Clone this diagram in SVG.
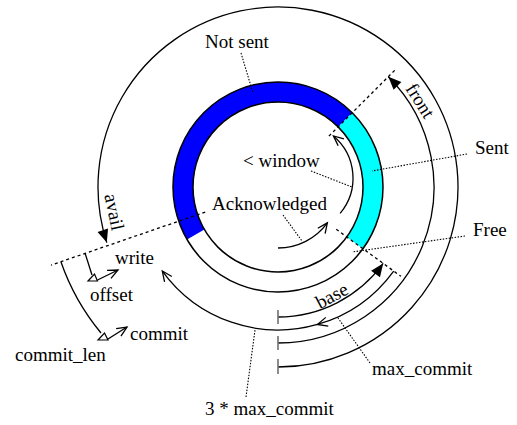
<svg xmlns="http://www.w3.org/2000/svg" width="517" height="425" viewBox="0 0 517 425">
<style>
.ln{fill:none;stroke:#000;stroke-width:1.3}
.ring{fill:none;stroke:#000;stroke-width:1.5}
.dash{fill:none;stroke:#000;stroke-width:1.3;stroke-dasharray:3 3}
.dot{fill:none;stroke:#000;stroke-width:1.1;stroke-dasharray:1.5 1.5}
.tick{fill:none;stroke:#707070;stroke-width:1.6}
.hollow{fill:#fff;stroke:#000;stroke-width:1.2}
text{font-family:"Liberation Serif","Times New Roman",serif;font-size:19px;fill:#000}
</style>
<defs>
<marker id="open" markerWidth="12" markerHeight="10" refX="11" refY="5" orient="auto" markerUnits="userSpaceOnUse" overflow="visible">
<path d="M1,0.5 L11,5 L1,9.5" fill="none" stroke="#000" stroke-width="1.3"/>
</marker>
<marker id="solid" markerWidth="14" markerHeight="11" refX="13" refY="5.5" orient="auto" markerUnits="userSpaceOnUse" overflow="visible">
<path d="M0,0 L13,5.5 L0,11 Z" fill="#000"/>
</marker>
</defs>

<g id="ring">
<path d="M187.07,239.5 A105,105 0 0 1 352.25,112.75 L338.1,126.9 A85,85 0 0 0 204.39,229.5 Z" fill="#0000ff"/>
<path d="M352.25,112.75 A105,105 0 0 1 362.95,248.72 L346.77,236.96 A85,85 0 0 0 338.1,126.9 Z" fill="#00ffff"/>
<circle cx="278" cy="187" r="105" class="ring"/>
<circle cx="278" cy="187" r="85" class="ring"/>
</g>

<g id="connectors">
<!-- avail (outer) -->
<path class="ln" d="M278,367 A180,180 0 1 0 106.81,242.62" marker-end="url(#solid)"/>
<!-- front -->
<path class="ln" d="M278,343 A156,156 0 0 0 388.31,76.69" marker-end="url(#solid)"/>
<!-- base -->
<path class="ln" d="M278,317 A130,130 0 0 0 383.17,263.41" marker-end="url(#solid)"/>
<!-- r=143 arc with mid arrow and write arrow -->
<path class="ln" d="M393.69,271.05 A143,143 0 0 1 317.42,324.46" marker-end="url(#open)"/>
<path class="ln" d="M317.42,324.46 A143,143 0 0 1 162.31,271.05" marker-end="url(#open)"/>
<!-- window arc -->
<path class="ln" d="M340.1,213.4 A55,55 0 0 0 333.4,135.9" marker-end="url(#open)"/>
<!-- acknowledged arc -->
<path class="ln" d="M278,248 A61,61 0 0 0 327.35,222.85" marker-end="url(#open)"/>
<!-- ticks -->
<line class="tick" x1="278" y1="310" x2="278" y2="324"/>
<line class="tick" x1="278" y1="336" x2="278" y2="350"/>
<line class="tick" x1="278" y1="359" x2="278" y2="374"/>
<!-- dashed radial lines -->
<line class="dash" x1="328.9" y1="136.1" x2="396.8" y2="68.2"/>
<line class="dash" x1="336.25" y1="229.32" x2="400.97" y2="276.34"/>
<line class="dash" x1="205.2" y1="212.07" x2="51.1" y2="265.1"/>
<!-- offset -->
<path class="ln" d="M85,253 L92,275"/>
<polygon class="hollow" points="88,281 94.5,274 97.5,281"/>
<path class="ln" d="M97.5,280 L118,270" marker-end="url(#open)"/>
<!-- commit_len -->
<path class="ln" d="M61,262 A230,230 0 0 0 101,333"/>
<polygon class="hollow" points="98,340 104.5,333 108,340"/>
<path class="ln" d="M108,339 L127,327" marker-end="url(#open)"/>
<!-- leaders -->
<line class="dot" x1="241" y1="53" x2="253" y2="93"/>
<line class="dot" x1="311" y1="171" x2="352" y2="187"/>
<line class="dot" x1="283" y1="215" x2="302" y2="241"/>
<line class="dot" x1="467" y1="154" x2="372" y2="171"/>
<line class="dot" x1="465" y1="236" x2="352" y2="252"/>
<line class="dot" x1="370" y1="363" x2="338" y2="318"/>
<line class="dot" x1="246" y1="397" x2="255" y2="330"/>
</g>

<g id="labels">
<text x="205" y="48">Not sent</text>
<text x="243" y="167">&lt; window</text>
<text x="212" y="210">Acknowledged</text>
<text x="475" y="154">Sent</text>
<text x="473" y="236">Free</text>
<text transform="translate(420,101) rotate(58)" x="0" y="6" text-anchor="middle">front</text>
<text transform="translate(114,212) rotate(78)" x="0" y="6" text-anchor="middle">avail</text>
<text transform="translate(332,296) rotate(-28)" x="0" y="6" text-anchor="middle">base</text>
<text x="115" y="264">write</text>
<text x="90" y="301">offset</text>
<text x="130" y="340">commit</text>
<text x="15" y="361">commit_len</text>
<text x="372" y="375">max_commit</text>
<text x="205" y="415">3 * max_commit</text>
</g>
</svg>
